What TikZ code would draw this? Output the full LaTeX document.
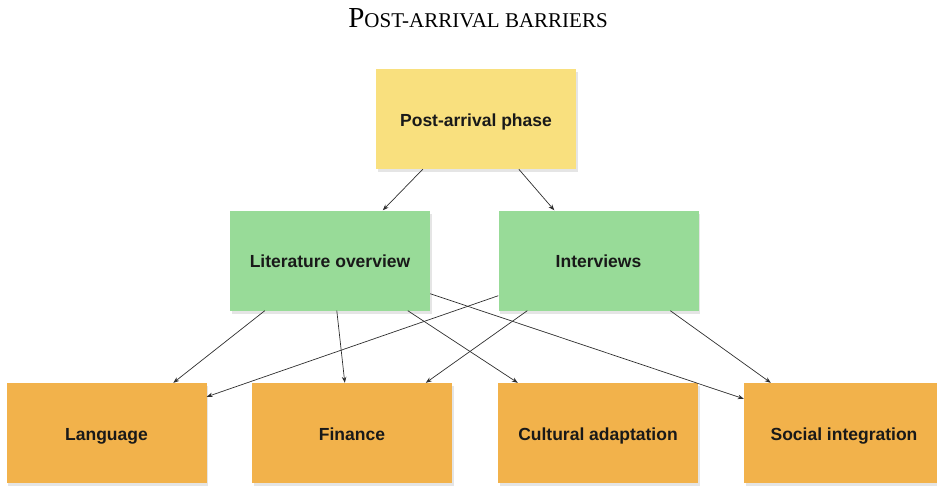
\documentclass[tikz,border=0pt]{standalone}
\usepackage{fontspec}
\setmainfont{Liberation Sans}
\newfontfamily\titlefont{Liberation Serif}
\usetikzlibrary{shadows,arrows.meta}
\definecolor{boxyellow}{HTML}{F9E07E}
\definecolor{boxgreen}{HTML}{98DB98}
\definecolor{boxorange}{HTML}{F2B24B}
\definecolor{arrowgray}{HTML}{2E2E2E}
\tikzset{
  card/.style={minimum width=200pt, minimum height=100pt, inner sep=0pt,
    text height=17pt, text depth=3pt,
    font=\fontsize{17.5}{20}\selectfont\bfseries, text=black!90,
    drop shadow={shadow xshift=1.5pt, shadow yshift=-3pt, opacity=0.10, fill=black}},
  phasebox/.style={card, fill=boxyellow},
  sourcebox/.style={card, fill=boxgreen},
  barrierbox/.style={card, fill=boxorange},
  link/.style={draw=arrowgray, line width=0.7pt, -{Stealth[length=6pt,width=4.5pt]}}
}
\begin{document}
\begin{tikzpicture}[x=1pt,y=-1pt]
\useasboundingbox (0,0) rectangle (937,485);
\node[anchor=base, inner sep=0pt] (title) at (478,27)
  {\titlefont{\fontsize{29}{29}\selectfont P}{\fontsize{21}{21}\selectfont OST-ARRIVAL BARRIERS}};
\node[phasebox] (post) at (476,119) {Post-arrival phase};
\node[sourcebox] (lit) at (330,260.5) {Literature overview};
\node[sourcebox] (int) at (598.5,260.5) {Interviews};
\node[barrierbox] (lang) at (106.5,433) {Language};
\node[barrierbox] (fin) at (352,433) {Finance};
\node[barrierbox] (cult) at (598,433) {Cultural adaptation};
\node[barrierbox] (soc) at (844,433) {Social integration};
\draw[link] ([xshift=47pt]post.south west) -- ([xshift=153pt]lit.north west);
\draw[link] ([xshift=143pt]post.south west) -- ([xshift=56pt]int.north west);
\draw[link] ([xshift=35pt]lit.south west) -- ([xshift=167pt]lang.north west);
\draw[link] ([xshift=107pt]lit.south west) -- ([xshift=93pt]fin.north west);
\draw[link] ([xshift=178pt]lit.south west) -- ([xshift=20pt]cult.north west);
\draw[link] ([yshift=17pt]lit.south east) -- ([yshift=-16pt]soc.north west);
\draw[link] ([yshift=15pt]int.south west) -- ([yshift=-14pt]lang.north east);
\draw[link] ([xshift=29pt]int.south west) -- ([xshift=174pt]fin.north west);
\draw[link] ([xshift=172pt]int.south west) -- ([xshift=27pt]soc.north west);
\end{tikzpicture}
\end{document}
